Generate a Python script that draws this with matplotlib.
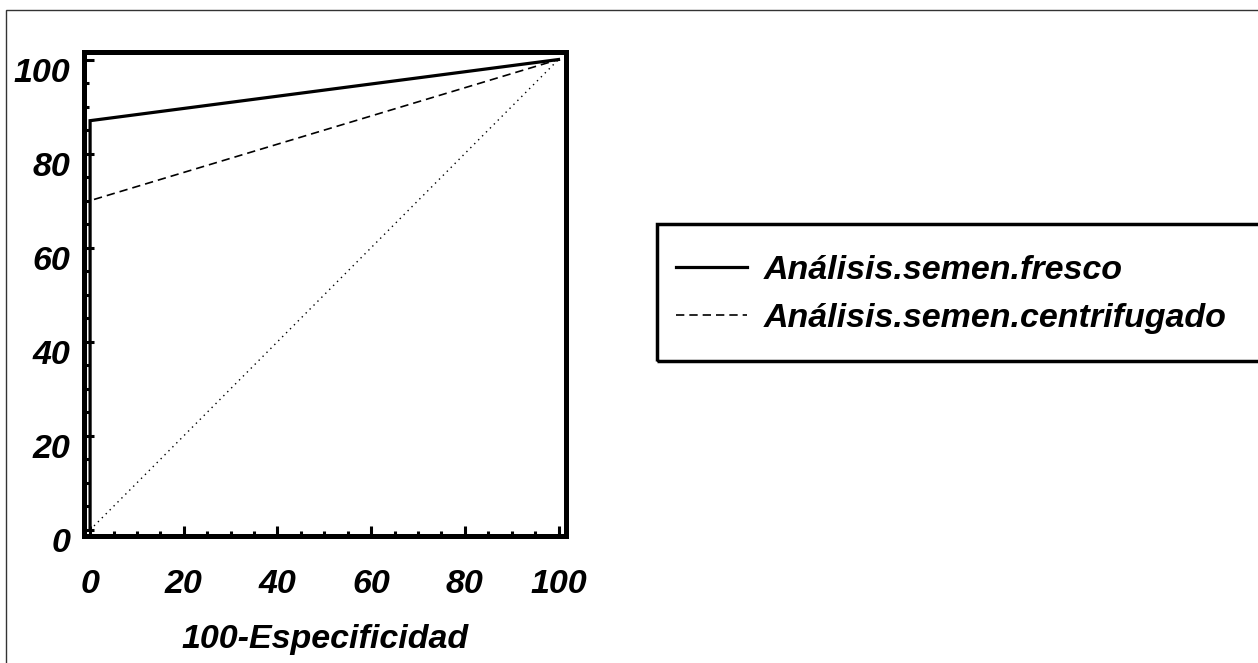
import matplotlib
matplotlib.use("Agg")
import matplotlib.pyplot as plt
import matplotlib.transforms as mtransforms
from matplotlib.patches import Rectangle
from matplotlib.ticker import MultipleLocator

# Data
fresco_x = [0, 0, 100]
fresco_y = [0, 87, 100]
centrif_x = [0, 0, 100]
centrif_y = [0, 70, 100]
ref_x = [0, 100]
ref_y = [0, 100]
tick_vals = [0, 20, 40, 60, 80, 100]
series_labels = ["Análisis.semen.fresco", "Análisis.semen.centrifugado"]
xlabel_text = "100-Especificidad"

plt.rcParams['font.family'] = ['Liberation Sans', 'DejaVu Sans']
FS = 24.5
W, H = 1258, 663

fig = plt.figure(figsize=(W/100, H/100), dpi=100)
fig.patch.set_facecolor('white')

# outer thin frame
fig.patches.append(Rectangle((6/W, -0.1), 1.2, 1 - 10/H + 0.1,
                             transform=fig.transFigure, fill=False,
                             edgecolor='#333333', linewidth=1.0, zorder=0))

ax = fig.add_axes([84/W, 1 - 536/H, (566-84)/W, (536-52)/H])

ax.plot(ref_x, ref_y, color='black', linewidth=1.0, linestyle=(0, (1, 3)))
l2, = ax.plot(centrif_x, centrif_y, color='black', linewidth=1.2,
              linestyle=(0, (5, 3)), label=series_labels[1])
l1, = ax.plot(fresco_x, fresco_y, color='black', linewidth=2.3,
              label=series_labels[0], solid_joinstyle='miter')

ax.set_xlim(-1.3, 101.6)
ax.set_ylim(-1.3, 101.6)

for s in ax.spines.values():
    s.set_linewidth(3.6)

ax.set_xticks(tick_vals)
ax.set_yticks(tick_vals)
ax.xaxis.set_minor_locator(MultipleLocator(5))
ax.yaxis.set_minor_locator(MultipleLocator(5))
ax.tick_params(which='major', direction='in', length=7, width=2.2,
               top=False, right=False, labelsize=FS)
ax.tick_params(which='minor', direction='in', length=3.5, width=2.2,
               top=False, right=False)
ax.tick_params(axis='x', which='major', pad=24)
ax.tick_params(axis='y', which='major', pad=10)

for lab in ax.get_xticklabels() + ax.get_yticklabels():
    lab.set_fontweight('bold')
    lab.set_fontstyle('italic')

offset = mtransforms.ScaledTranslation(0, -10/100, fig.dpi_scale_trans)
for lab in ax.get_yticklabels():
    lab.set_transform(lab.get_transform() + offset)

ax.set_xlabel(xlabel_text, fontsize=FS, fontweight='bold', fontstyle='italic',
              labelpad=17)

# legend frame (extends past the right edge, as in the reference)
fig.patches.append(Rectangle((657/W, 1 - 361/H), 700/W, (361-224)/H,
                             transform=fig.transFigure, fill=False,
                             edgecolor='black', linewidth=2.5, zorder=1))

leg = fig.legend(handles=[l1, l2], labels=series_labels,
                 loc='upper left', bbox_to_anchor=(657/W, 1 - 236/H),
                 frameon=False,
                 handlelength=2.1, handletextpad=0.5, labelspacing=0.5,
                 borderpad=0.55, borderaxespad=0,
                 prop={'size': FS, 'weight': 'bold', 'style': 'italic'})

fig.savefig("out.png", dpi=100, facecolor='white')
